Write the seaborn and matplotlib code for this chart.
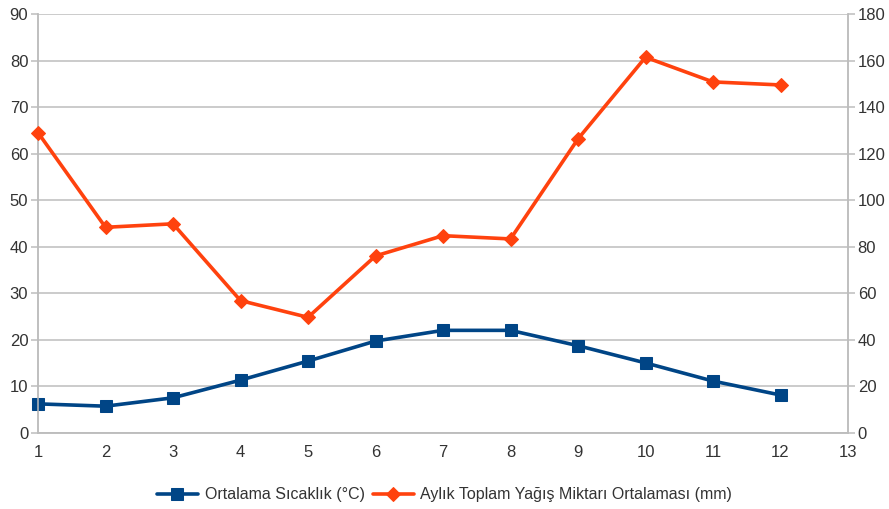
import matplotlib
matplotlib.use("Agg")
import matplotlib.pyplot as plt
import seaborn as sns
import pandas as pd

months = [1, 2, 3, 4, 5, 6, 7, 8, 9, 10, 11, 12]
temperature = [6.2, 5.7, 7.5, 11.3, 15.4, 19.7, 22.0, 22.0, 18.7, 15.0, 11.1, 8.1]
precipitation = [129.0, 88.3, 89.8, 56.8, 49.6, 76.0, 84.7, 83.3, 126.3, 161.4, 150.8, 149.5]

temp_label = "Ortalama Sıcaklık (°C)"
rain_label = "Aylık Toplam Yağış Miktarı Ortalaması (mm)"

left_ticks = [0, 10, 20, 30, 40, 50, 60, 70, 80, 90]
right_ticks = [0, 20, 40, 60, 80, 100, 120, 140, 160, 180]
x_ticks = list(range(1, 14))

sns.set_theme(style="white")
plt.rcParams["font.family"] = ["Liberation Sans", "DejaVu Sans"]

blue = "#004586"
orange = "#ff420e"
grid_c = "#bdbdbd"
text_c = "#333333"

df = pd.DataFrame({"Ay": months, "Sicaklik": temperature, "Yagis": precipitation})

fig = plt.figure(figsize=(8.89, 5.09), dpi=100)
ax = fig.add_axes([38 / 889, 1 - 432.7 / 509, (848 - 38) / 889, (432.7 - 14) / 509])
ax2 = ax.twinx()

sns.lineplot(data=df, x="Ay", y="Sicaklik", ax=ax, color=blue, marker="s",
             markersize=9, markeredgecolor=blue, linewidth=2.6, label=temp_label,
             legend=False, zorder=3, clip_on=False)
sns.lineplot(data=df, x="Ay", y="Yagis", ax=ax2, color=orange, marker="D",
             markersize=7, markeredgecolor=orange, linewidth=2.6, label=rain_label,
             legend=False, zorder=3, clip_on=False)

ax.set_xlim(1, 13)
ax.set_ylim(0, 90)
ax2.set_ylim(0, 180)
ax.set_xticks(x_ticks)
ax.set_yticks(left_ticks)
ax2.set_yticks(right_ticks)
ax.set_xlabel("")
ax.set_ylabel("")
ax2.set_ylabel("")

ax.grid(axis="y", color=grid_c, linewidth=1.1)
ax.set_axisbelow(True)
ax2.grid(False)

for a in (ax, ax2):
    a.spines["top"].set_visible(False)
    for side in ("left", "right", "bottom"):
        a.spines[side].set_color(grid_c)
        a.spines[side].set_linewidth(1.1)
    a.tick_params(colors=grid_c, labelcolor=text_c, labelsize=12,
                  length=5, width=1.1, direction="out")
ax.tick_params(axis="y", pad=2)
ax.tick_params(axis="x", pad=4)
ax2.tick_params(axis="y", pad=2)

handles = ax.get_lines()[:1] + ax2.get_lines()[:1]
fig.legend(handles, [temp_label, rain_label], loc="center", bbox_to_anchor=(0.5, 1 - 495 / 509),
           ncol=2, frameon=False, fontsize=11.5, handlelength=2.6, columnspacing=0.5,
           handletextpad=0.4, labelcolor=text_c)

fig.savefig("out.png", dpi=100, facecolor="white")
